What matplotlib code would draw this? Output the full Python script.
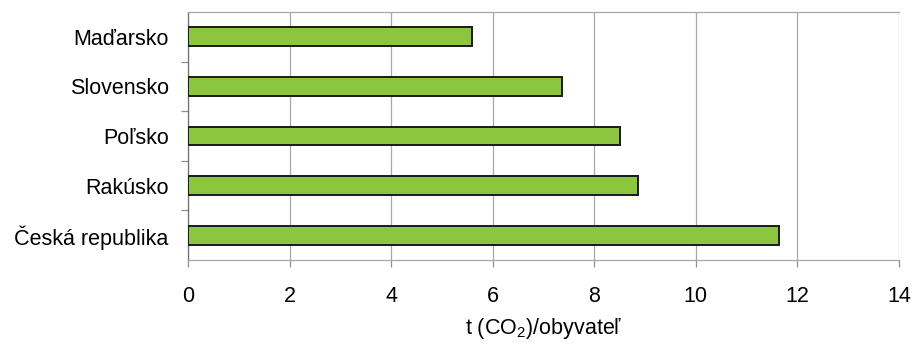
import matplotlib
matplotlib.use("Agg")
import matplotlib.pyplot as plt
import numpy as np

plt.rcParams['font.family'] = ['Liberation Sans', 'DejaVu Sans']
plt.rcParams['mathtext.fontset'] = 'custom'
plt.rcParams['mathtext.rm'] = 'Liberation Sans'
plt.rcParams['mathtext.it'] = 'Liberation Sans'

# data (top to bottom as shown)
countries = ["Maďarsko", "Slovensko", "Poľsko", "Rakúsko", "Česká republika"]
emissions = [5.59, 7.36, 8.50, 8.86, 11.63]
x_ticks = [0, 2, 4, 6, 8, 10, 12, 14]

FS = 15.5

fig = plt.figure(figsize=(9.14, 3.47), dpi=100)
ax = fig.add_axes([0.2057, 0.2507, 0.7779, 0.7147])

# bottom category at y=0
ypos = np.arange(len(countries))[::-1]
ax.barh(ypos, emissions, height=0.38, color="#8cc63e",
        edgecolor="#1a1a1a", linewidth=1.4, zorder=3)

ax.set_xlim(0, 14)
ax.set_ylim(-0.5, len(countries) - 0.5)
ax.set_xticks(x_ticks)
ax.set_xticklabels([str(t) for t in x_ticks], fontsize=FS)
ax.set_yticks(ypos)
ax.set_yticklabels(countries, fontsize=FS)
ax.set_yticks(np.arange(len(countries) - 1) + 0.5, minor=True)

ax.grid(axis="x", color="#a8a8a8", linewidth=0.9, zorder=0)
ax.tick_params(axis="y", which="major", length=0, pad=14)
ax.tick_params(axis="y", which="minor", length=5, width=0.9, color="#909090", direction="out")
ax.tick_params(axis="x", length=5, width=0.9, color="#909090", pad=14)

for side in ["top", "bottom"]:
    ax.spines[side].set_color("#a8a8a8")
    ax.spines[side].set_linewidth(0.9)
ax.spines["right"].set_visible(False)
ax.spines["left"].set_color("#707070")
ax.spines["left"].set_linewidth(0.9)

ax.set_xlabel("t (CO$_2$)/obyvateľ", fontsize=FS, labelpad=6)

fig.savefig("out.png", dpi=100)
